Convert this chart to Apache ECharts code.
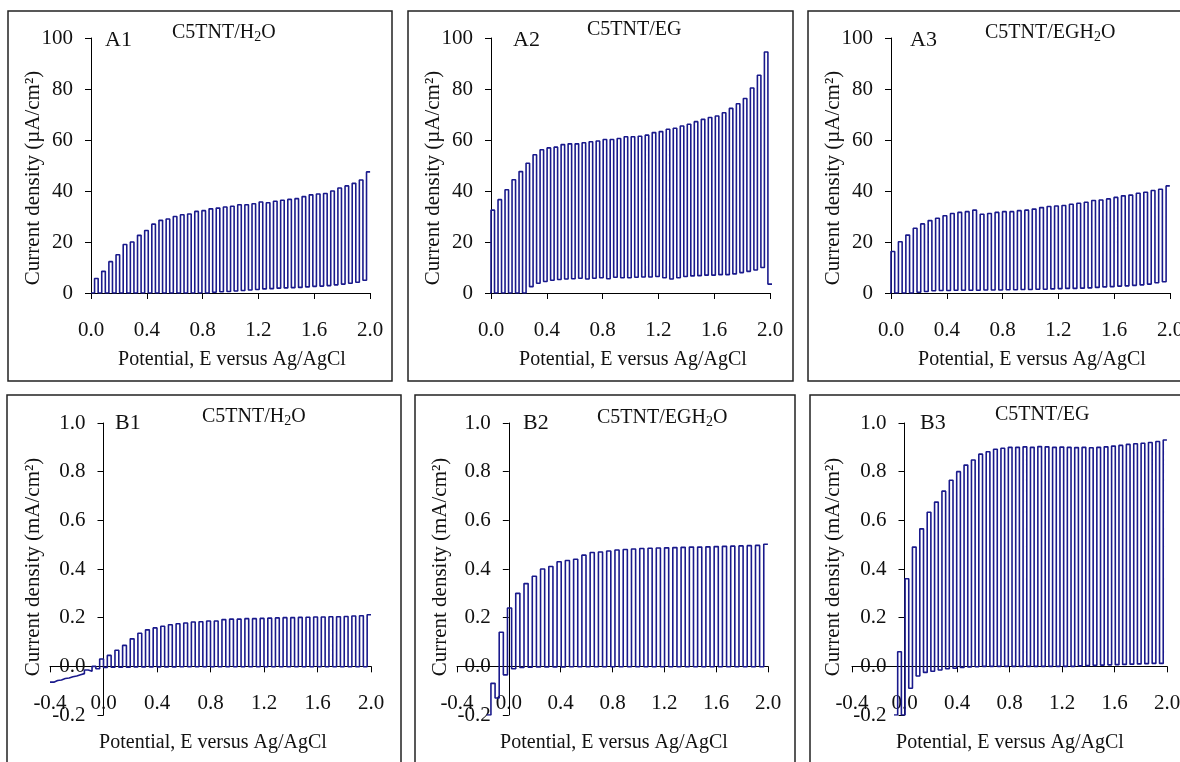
<!DOCTYPE html>
<html>
<head>
<meta charset="utf-8">
<script src="https://cdn.jsdelivr.net/npm/echarts@6/dist/echarts.min.js"></script>
<style>
  html, body { margin: 0; padding: 0; background: #fff; }
  #chart { width: 1180px; height: 762px; }
</style>
</head>
<body>
<div id="chart"></div>
<script>
// photocurrent under chopped light, one light / dark level per chopping cycle
const a1Light = [5.7, 8.5, 12.3, 15, 19, 20, 22.6, 24.5, 27, 28.5, 29, 30, 30.7, 31, 32, 32.3, 33, 33.3, 33.7, 34,
  34.6, 34.6, 35, 35.7, 35.4, 36, 36.4, 36.7, 37, 37.8, 38.5, 38.8, 39, 40, 41.2, 42, 43, 44.3, 47.5]
const a1Dark = [0, 0, 0, 0, 0, 0, 0, 0, 0, 0, 0, 0, 0, 0, 0, 0, 0, 0.3, 0.5, 0.6,
  0.8, 1.0, 1.2, 1.4, 1.6, 1.7, 1.9, 2.0, 2.1, 2.2, 2.4, 2.6, 2.7, 2.9, 3.2, 3.5, 3.8, 4.2, 5.0]

const a2Light = [32.5, 36.6, 40.5, 44.4, 47.6, 50.9, 54.2, 56.2, 56.9, 57.2, 58.2, 58.5, 58.5, 58.9, 59.3, 59.6, 60.2, 60.2, 60.6, 61.3,
  61.3, 61.5, 61.9, 62.9, 63.3, 64.2, 64.6, 65.5, 66.2, 67.2, 68.1, 68.8, 69.4, 70.7, 72.4, 74.2, 76.3, 80.4, 85.4, 94.5, 3.5]
const a2Dark = [0, 0, 0, 0, 0, 0, 2.5, 3.8, 4.5, 5, 5.3, 5.5, 5.6, 5.8, 5.5, 5.8, 6, 5.6, 6.2, 6,
  6, 6.2, 6.3, 6.3, 6.5, 6, 5.5, 6, 6.5, 6.7, 6.8, 7, 7, 7.2, 7.2, 7.5, 8, 8.5, 9, 10, 3.5]

const a3Light = [16.3, 20.1, 22.7, 25.4, 27.1, 28.4, 29.3, 30.3, 31.2, 31.6, 31.9, 32.5, 30.9, 31.2, 31.6, 31.9, 31.9, 32.3, 32.5,
  32.9, 33.5, 33.9, 34.1, 34.3, 34.8, 35.2, 35.6, 36.3, 36.5, 36.9, 37.5, 38.1, 38.4, 39.1, 39.5, 40.2, 40.7, 42.0]
const a3Dark = [0, 0, 0, 0, 0.3, 0.6, 0.9, 1, 1, 1.1, 1.1, 1.1, 1.1, 1.2, 1.2, 1.2, 1.3, 1.3, 1.4,
  1.4, 1.5, 1.5, 1.6, 1.7, 1.8, 1.8, 1.9, 2, 2.2, 2.4, 2.5, 2.7, 2.8, 3, 3.2, 3.5, 4, 4.4]

const b1Light = [-0.058, -0.05, -0.043, -0.035, -0.015, 0.0, 0.03, 0.045, 0.066, 0.086, 0.113, 0.136, 0.15, 0.158,
  0.165, 0.171, 0.175, 0.178, 0.182, 0.183, 0.186, 0.186, 0.192, 0.194, 0.194, 0.196, 0.196, 0.197, 0.198, 0.199,
  0.2, 0.2, 0.201, 0.202, 0.203, 0.203, 0.204, 0.204, 0.205, 0.207, 0.208, 0.212]
const b1Dark = [-0.065, -0.056, -0.048, -0.04, -0.03, -0.02, -0.01, -0.005, -0.004, -0.004, -0.004, -0.003, -0.003, -0.003,
  -0.003, -0.003, -0.003, -0.002, -0.002, -0.002, -0.002, -0.002, -0.002, -0.002, -0.002, -0.002, -0.002, -0.002, -0.002, -0.002,
  -0.002, -0.002, -0.002, -0.002, -0.002, -0.002, -0.002, -0.002, -0.002, -0.002, -0.002, -0.002]

const b2Light = [-0.07, 0.14, 0.24, 0.30, 0.34, 0.37, 0.40, 0.41, 0.43, 0.435, 0.44, 0.457, 0.468, 0.47, 0.474, 0.478, 0.48,
  0.482, 0.484, 0.485, 0.486, 0.487, 0.488, 0.489, 0.49, 0.49, 0.491, 0.492, 0.493, 0.494, 0.495, 0.496, 0.497, 0.502]
const b2Dark = [-0.2, -0.13, -0.035, -0.01, -0.005, -0.004, -0.003, -0.003, -0.003, -0.003, -0.002, -0.002, -0.002, -0.002, -0.002, -0.002, -0.002,
  -0.002, -0.002, -0.002, -0.002, -0.002, -0.002, -0.002, -0.002, -0.002, -0.002, -0.002, -0.002, -0.002, -0.002, -0.002, -0.002, -0.002]

const b3Light = [0.06, 0.36, 0.49, 0.565, 0.633, 0.675, 0.72, 0.765, 0.8, 0.827, 0.848, 0.872, 0.882, 0.892, 0.896, 0.9, 0.9, 0.902, 0.9,
  0.903, 0.902, 0.9, 0.901, 0.9, 0.899, 0.9, 0.898, 0.9, 0.902, 0.905, 0.908, 0.912, 0.915, 0.917, 0.92, 0.924, 0.93]
const b3Dark = [-0.2, -0.2, -0.09, -0.04, -0.025, -0.02, -0.015, -0.01, -0.008, -0.005, -0.003, -0.002, 0, 0, 0, 0, 0, 0, 0,
  0, 0, 0, 0, 0, 0, 0.002, 0.003, 0.004, 0.005, 0.006, 0.007, 0.008, 0.009, 0.01, 0.011, 0.012, 0.012]

// chopping: first potential and cycle length (V) per panel
const chop = {
  a1: [0, 0.0513], a2: [-0.025, 0.05025], a3: [-0.0267, 0.0533],
  b1: [-0.4, 0.05714], b2: [-0.17, 0.0638], b3: [-0.08, 0.0562]
}

const FONT = 'Liberation Serif'
const INK = '#111'
const LINE = '#1a1a8c'

// dark half then light half for every cycle
function trace(start, step, light, dark) {
  const pts = []
  light.forEach((v, i) => {
    const s = start + i * step
    pts.push([s, dark[i]], [s + step / 2, dark[i]], [s + step / 2, v], [s + step, v])
  })
  return pts
}

const grids = [
  { left: 91, top: 38, width: 279, height: 255 },
  { left: 491, top: 38, width: 279, height: 255 },
  { left: 891, top: 38, width: 279, height: 255 },
  { left: 50, top: 423, width: 321, height: 292 },
  { left: 457, top: 423, width: 311, height: 292 },
  { left: 852, top: 423, width: 315, height: 292 }
].map(g => Object.assign({ containLabel: false, outerBoundsMode: 'none' }, g))

// lower row: axes cross at (0, 0), so shift them into the grid by hand
function zeroShiftX(g) { return -g.height * 0.2 / 1.2 }
function zeroShiftY(g) { return -g.width * 0.4 / 2.4 }

function xAx(idx, min, offset) {
  return {
    type: 'value', gridIndex: idx, min: min, max: 2.0, interval: 0.4,
    position: 'bottom', offset: offset,
    axisLine: { onZero: false, lineStyle: { color: '#000', width: 1 } },
    axisTick: { inside: false, length: 6, lineStyle: { color: '#000' } },
    axisLabel: { margin: 27, fontSize: 21, fontFamily: FONT, color: INK, formatter: v => Number(v).toFixed(1) },
    splitLine: { show: false }
  }
}
function yAx(idx, min, max, interval, offset, fmt) {
  return {
    type: 'value', gridIndex: idx, min: min, max: max, interval: interval,
    position: 'left', offset: offset,
    axisLine: { show: true, onZero: false, lineStyle: { color: '#000', width: 1 } },
    axisTick: { show: true, inside: false, length: 6, lineStyle: { color: '#000' } },
    axisLabel: { margin: 18, fontSize: 21, fontFamily: FONT, color: INK, formatter: fmt },
    splitLine: { show: false }
  }
}
const f1 = v => Number(v).toFixed(1)
const f0 = v => String(Math.round(v))

const xAxes = [xAx(0, 0, 0), xAx(1, 0, 0), xAx(2, 0, 0),
  xAx(3, -0.4, zeroShiftX(grids[3])), xAx(4, -0.4, zeroShiftX(grids[4])), xAx(5, -0.4, zeroShiftX(grids[5]))]
const yAxes = [yAx(0, 0, 100, 20, 0, f0), yAx(1, 0, 100, 20, 0, f0), yAx(2, 0, 100, 20, 0, f0),
  yAx(3, -0.2, 1.0, 0.2, zeroShiftY(grids[3]), f1), yAx(4, -0.2, 1.0, 0.2, zeroShiftY(grids[4]), f1),
  yAx(5, -0.2, 1.0, 0.2, zeroShiftY(grids[5]), f1)]

const traces = [
  trace(chop.a1[0], chop.a1[1], a1Light, a1Dark),
  trace(chop.a2[0], chop.a2[1], a2Light, a2Dark),
  trace(chop.a3[0], chop.a3[1], a3Light, a3Dark),
  trace(chop.b1[0], chop.b1[1], b1Light, b1Dark),
  trace(chop.b2[0], chop.b2[1], b2Light, b2Dark),
  trace(chop.b3[0], chop.b3[1], b3Light, b3Dark)
]
const series = traces.map((d, i) => ({
  type: 'line', xAxisIndex: i, yAxisIndex: i, data: d,
  symbol: 'none', clip: true, silent: true,
  lineStyle: { color: LINE, width: 1.6 }
}))

// frames, panel tags, titles, axis names
const graphic = []
const frames = [[8, 11, 384, 370], [408, 11, 385, 370], [808, 11, 400, 370],
  [7, 395, 394, 400], [415, 395, 380, 400], [810, 395, 400, 400]]
frames.forEach(f => graphic.push({
  type: 'rect', shape: { x: f[0], y: f[1], width: f[2], height: f[3] },
  style: { fill: 'none', stroke: '#222', lineWidth: 1.5 }, silent: true
}))

function txt(x, y, text, size, align, rot) {
  return {
    type: 'text', x: x, y: y, rotation: rot || 0, silent: true,
    style: { text: text, fontSize: size, fontFamily: FONT, fill: INK, align: align || 'center', verticalAlign: 'middle' }
  }
}
function sub(x, y, pre, s, post) {
  return {
    type: 'text', x: x, y: y, silent: true,
    style: {
      text: '{n|' + pre + '}' + (s ? '{s|' + s + '}{n|' + post + '}' : ''),
      align: 'left', verticalAlign: 'middle', fill: INK,
      rich: {
        n: { fontSize: 20, fontFamily: FONT, fill: INK, lineHeight: 22 },
        s: { fontSize: 14, fontFamily: FONT, fill: INK, lineHeight: 9, verticalAlign: 'bottom' }
      }
    }
  }
}

const tags = [['A1', 105, 40], ['A2', 513, 40], ['A3', 910, 40], ['B1', 115, 423], ['B2', 523, 423], ['B3', 920, 423]]
tags.forEach(t => graphic.push(txt(t[1], t[2], t[0], 22, 'left')))

graphic.push(sub(172, 33, 'C5TNT/H', '2', 'O'))
graphic.push(sub(587, 30, 'C5TNT/EG'))
graphic.push(sub(985, 33, 'C5TNT/EGH', '2', 'O'))
graphic.push(sub(202, 417, 'C5TNT/H', '2', 'O'))
graphic.push(sub(597, 418, 'C5TNT/EGH', '2', 'O'))
graphic.push(sub(995, 415, 'C5TNT/EG'))

const xName = 'Potential, E versus Ag/AgCl'
;[[232, 360], [633, 360], [1032, 360], [213, 743], [614, 743], [1010, 743]].forEach(p => graphic.push(txt(p[0], p[1], xName, 20)))

const yNameA = 'Current density (\u00b5A/cm\u00b2)'
const yNameB = 'Current density (mA/cm\u00b2)'
;[[33, 178], [433, 178], [833, 178]].forEach(p => graphic.push(txt(p[0], p[1], yNameA, 21, 'center', Math.PI / 2)))
;[[33, 567], [440, 567], [833, 567]].forEach(p => graphic.push(txt(p[0], p[1], yNameB, 21, 'center', Math.PI / 2)))

const chart = echarts.init(document.getElementById('chart'), null, { renderer: 'canvas' })
chart.setOption({
  animation: false,
  backgroundColor: '#fff',
  grid: grids,
  xAxis: xAxes,
  yAxis: yAxes,
  series: series,
  graphic: graphic
})
</script>
</body>
</html>
